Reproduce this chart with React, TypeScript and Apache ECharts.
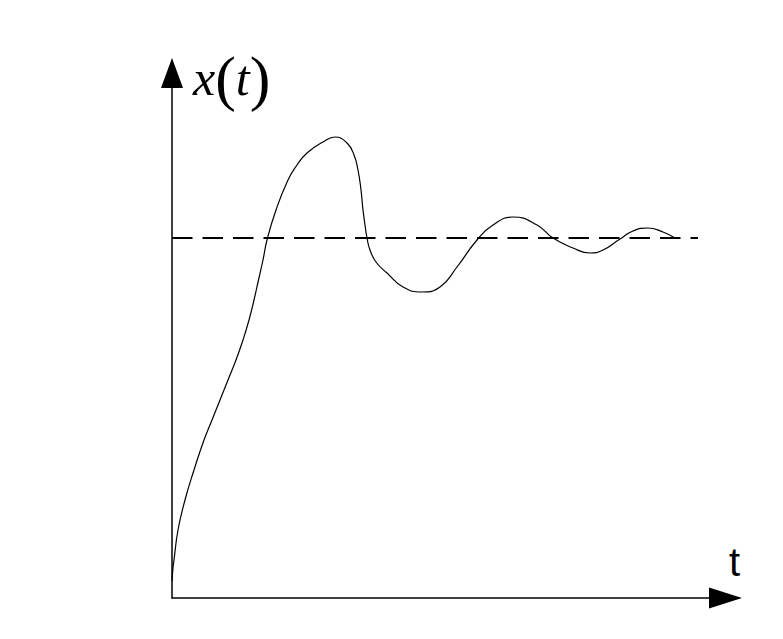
import React, { useEffect, useRef } from "react";
import * as echarts from "echarts";

// Step response samples (time, response)
const timeValues = [0, 1, 2, 6, 13, 22, 32, 40, 48, 56, 64, 71, 77, 82, 86.5, 91, 95, 104, 116, 125, 135, 151, 163, 175, 182, 186, 189, 191, 193, 195, 198, 204, 215, 231, 250, 268, 285, 305, 321, 341, 365, 381, 401, 418, 431, 448, 461, 476, 491, 503];
const responseValues = [17, 30, 38, 68, 98, 128, 158, 178, 198, 218, 238, 258, 278, 298, 318, 338, 358, 388, 418, 433, 445, 456, 461, 455, 443, 428, 408, 388, 373, 360, 348, 336, 325, 311, 306, 311, 331, 358, 373, 381, 373, 360, 350, 345, 348, 359, 367, 370, 366, 360];

// Steady-state (setpoint) level and the extent of the dashed line
const setpointLevel = 360;
const setpointRange = [0, 526];

const xMax = 553.5;
const yMax = 525;

export default function App() {
  const ref = useRef<HTMLDivElement>(null);

  useEffect(() => {
    if (!ref.current) return;
    const chart = echarts.init(ref.current, null, { renderer: "svg" });
    const curve = timeValues.map((t, i) => [t, responseValues[i]]);
    chart.setOption({
      animation: false,
      backgroundColor: "#ffffff",
      grid: { left: 172, top: 73, right: 783 - 725.5, bottom: 41 },
      xAxis: {
        type: "value",
        min: 0,
        max: xMax,
        splitLine: { show: false },
        axisTick: { show: false },
        axisLabel: { show: false },
        axisLine: {
          show: true,
          symbol: ["none", "triangle"],
          symbolSize: [21, 33],
          lineStyle: { color: "#000", width: 1.5 },
        },
      },
      yAxis: {
        type: "value",
        min: 0,
        max: yMax,
        splitLine: { show: false },
        axisTick: { show: false },
        axisLabel: { show: false },
        axisLine: {
          show: true,
          symbol: ["none", "triangle"],
          symbolSize: [22, 30],
          lineStyle: { color: "#000", width: 1.5 },
        },
      },
      series: [
        {
          type: "line",
          data: setpointRange.map((t) => [t, setpointLevel]),
          showSymbol: false,
          lineStyle: { color: "#000", width: 2.2, type: [20.5, 10] },
          silent: true,
        },
        {
          type: "line",
          data: curve,
          smooth: 0.5,
          showSymbol: false,
          lineStyle: { color: "#000", width: 1.2 },
          silent: true,
        },
      ],
      graphic: [
        {
          type: "text",
          x: 193,
          y: 78,
          style: {
            text: "{i|x}{p|(}{i|t}{p|)}",
            align: "left",
            verticalAlign: "middle",
            fill: "#000",
            rich: {
              i: {
                fontFamily: "'Liberation Serif', serif",
                fontStyle: "italic",
                fontSize: 50,
                lineHeight: 70,
                fill: "#000",
              },
              p: {
                fontFamily: "'Liberation Serif', serif",
                fontSize: 62,
                lineHeight: 70,
                fill: "#000",
              },
            },
          },
        },
        {
          type: "text",
          left: 729,
          top: 542,
          style: {
            text: "t",
            font: "40px 'Liberation Sans', Arial, sans-serif",
            fill: "#000",
          },
        },
      ],
    });
    return () => chart.dispose();
  }, []);

  return (
    <div
      ref={ref}
      style={{ position: "fixed", left: 0, top: 0, width: 783, height: 639, background: "#fff" }}
    />
  );
}
